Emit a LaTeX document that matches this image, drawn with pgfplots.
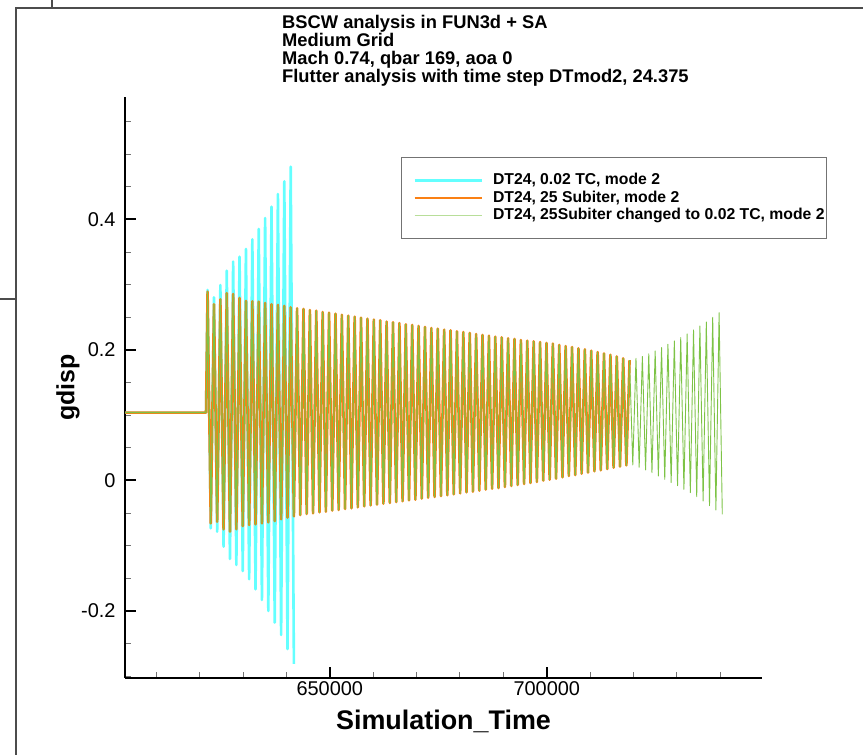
\documentclass[border=0pt]{standalone}
\usepackage{fontspec}
\setmainfont{Liberation Sans}
\usepackage{pgfplots}
\pgfplotsset{compat=1.18}
\usepackage{pgfplotstable}

\definecolor{dtcyan}{RGB}{100,255,255}
\definecolor{dtorange}{RGB}{250,128,20}
\definecolor{dtgreen}{RGB}{125,195,70}

% gdisp history, DT24 with 0.02 TC (peaks and troughs of each cycle)
\pgfplotstableread{
t g
602900 0.104
621470 0.104
621830 0.2920
622567 -0.0733
623304 0.2807
624041 -0.0784
624777 0.2996
625514 -0.1014
626251 0.3216
626988 -0.1203
627724 0.3354
628461 -0.1295
629198 0.3430
629935 -0.1387
630671 0.3548
631408 -0.1514
632145 0.3696
632882 -0.1668
633618 0.3854
634355 -0.1831
635092 0.4023
635829 -0.2000
636565 0.4196
637302 -0.2179
638039 0.4390
638776 -0.2368
639512 0.4585
640249 -0.2582
640986 0.4810
641723 -0.2812
}\tcrun

% gdisp history, DT24 with 25 subiterations
\pgfplotstableread{
t g
602900 0.104
621470 0.104
621830 0.2893
622567 -0.0656
623304 0.2700
624041 -0.0631
624777 0.2777
625514 -0.0748
626251 0.2869
626988 -0.0784
627724 0.2858
628461 -0.0748
629198 0.2797
629935 -0.0697
630671 0.2751
631408 -0.0682
632145 0.2746
632882 -0.0672
633618 0.2740
634355 -0.0656
635092 0.2720
635829 -0.0641
636565 0.2700
637302 -0.0621
638039 0.2690
638776 -0.0595
639512 0.2674
640249 -0.0570
640986 0.2654
641723 -0.0549
642459 0.2639
643196 -0.0529
643933 0.2628
644670 -0.0513
645406 0.2613
646143 -0.0503
646880 0.2603
647617 -0.0488
648353 0.2582
649090 -0.0478
649827 0.2572
650564 -0.0462
651300 0.2557
652037 -0.0452
652774 0.2540
653511 -0.0437
654247 0.2526
654984 -0.0427
655721 0.2510
656458 -0.0411
657194 0.2495
657931 -0.0396
658668 0.2480
659405 -0.0381
660141 0.2465
660878 -0.0370
661615 0.2455
662352 -0.0355
663088 0.2434
663825 -0.0345
664562 0.2424
665299 -0.0330
666035 0.2412
666772 -0.0319
667509 0.2393
668246 -0.0304
668982 0.2383
669719 -0.0294
670456 0.2368
671193 -0.0278
671929 0.2352
672666 -0.0263
673403 0.2337
674140 -0.0253
674876 0.2327
675613 -0.0238
676350 0.2311
677087 -0.0227
677823 0.2301
678560 -0.0212
679297 0.2286
680034 -0.0197
680770 0.2275
681507 -0.0181
682244 0.2260
682981 -0.0171
683717 0.2245
684454 -0.0156
685191 0.2230
685928 -0.0140
686664 0.2219
687401 -0.0125
688138 0.2204
688875 -0.0115
689611 0.2194
690348 -0.0100
691085 0.2178
691822 -0.0084
692558 0.2168
693295 -0.0069
694032 0.2153
694769 -0.0054
695505 0.2143
696242 -0.0038
696979 0.2132
697716 -0.0023
698452 0.2122
699189 -0.0003
699926 0.2107
700663 0.0013
701399 0.2097
702136 0.0028
702873 0.2076
703610 0.0049
704346 0.2060
705083 0.0069
705820 0.2045
706557 0.0084
707293 0.2025
708030 0.0105
708767 0.2009
709504 0.0120
710240 0.1989
710977 0.0141
711714 0.1968
712451 0.0156
713187 0.1947
713924 0.0176
714661 0.1927
715398 0.0197
716134 0.1900
716871 0.0212
717608 0.1872
718345 0.0232
719081 0.1845
}\subiterrun

% continuation after switching the 25-subiteration run to 0.02 TC
\pgfplotstableread{
t g
719081 0.1845
719818 0.0238
720555 0.1873
721292 0.0202
722028 0.1899
722765 0.0161
723502 0.1940
724239 0.0120
724975 0.1985
725712 0.0069
726449 0.2036
727186 0.0018
727922 0.2088
728659 -0.0033
729396 0.2139
730133 -0.0079
730869 0.2190
731606 -0.0136
732343 0.2246
733080 -0.0187
733816 0.2307
734553 -0.0248
735290 0.2368
736027 -0.0314
736763 0.2429
737500 -0.0386
738237 0.2500
738974 -0.0452
739710 0.2572
740447 -0.0519
}\restartrun

\begin{document}
\begin{tikzpicture}[x=1bp,y=1bp]
\useasboundingbox (0,0) rectangle (863,755);

% window frame
\draw[black!70, line width=1.5bp] (16,0) -- (16,747) -- (863,747);
\draw[black!70, line width=1.5bp] (52,747) -- (52,755);
\draw[black!70, line width=1.5bp] (0,456) -- (16,456);

% title block
\begin{scope}[every node/.style={anchor=base west, inner sep=0pt, font=\bfseries\fontsize{18.4}{18}\selectfont}]
\node at (282,726) {BSCW analysis in FUN3d + SA};
\node at (282,708) {Medium Grid};
\node at (282,690) {Mach 0.74, qbar 169, aoa 0};
\node at (282,672) {Flutter analysis with time step DTmod2, 24.375};
\end{scope}

\begin{axis}[
  at={(125bp,77bp)}, anchor=south west,
  scale only axis, width=637bp, height=581bp,
  xmin=602800, xmax=749600, ymin=-0.3027, ymax=0.5877,
  axis x line=bottom, axis y line=left,
  x axis line style={-}, y axis line style={-},
  axis line style={line width=2.2bp, black},
  scaled x ticks=false, scaled y ticks=false,
  xtick={650000,700000}, xticklabels={650000,700000},
  ytick={-0.2,0,0.2,0.4}, yticklabels={-0.2,0,0.2,0.4},
  minor xtick={610000,620000,630000,640000,660000,670000,680000,690000,710000,720000,730000,740000},
  minor ytick={-0.30,-0.25,-0.15,-0.10,-0.05,0.05,0.10,0.15,0.25,0.30,0.35,0.45,0.50,0.55},
  tick align=inside,
  major tick length=11bp, minor tick length=6bp,
  every major tick/.append style={black, line width=2bp},
  every minor tick/.append style={black!55, line width=1bp},
  tick label style={font=\fontsize{20}{24}\selectfont},
  yticklabel style={xshift=-6bp},
  xlabel={Simulation\_Time}, ylabel={gdisp},
  xlabel style={font=\bfseries\fontsize{27}{30}\selectfont, at={(axis description cs:0.5,-0.074)}, anchor=center},
  ylabel style={font=\bfseries\fontsize{25}{28}\selectfont, at={(axis description cs:-0.0895,0.5)}, anchor=center},
  legend style={at={(0.4333,0.8967)}, anchor=north west, draw=black!55, line width=0.8bp,
    font=\bfseries\fontsize{15.8}{17.5}\selectfont, inner xsep=2bp, inner ysep=15.5bp,
    row sep=2.5bp, column sep=10bp, cells={anchor=west},
    nodes={inner sep=0pt, text height=12bp, text depth=3bp}},
  legend image code/.code={\path (0bp,0bp); \draw[#1] (10bp,0bp) -- (77bp,0bp);},
]
\addplot[dtcyan, line width=2.6bp, line join=round] table[x=t,y=g]{\tcrun};
\addlegendentry{DT24, 0.02 TC, mode 2}
\addplot[dtorange, line width=2.6bp, line join=round] table[x=t,y=g]{\subiterrun};
\addlegendentry{DT24, 25 Subiter, mode 2}
\addplot[dtgreen, line width=1.1bp, line join=round, forget plot] table[x=t,y=g]{\subiterrun};
\addplot[dtgreen, line width=0.9bp, line join=round,
  legend image post style={dtgreen!55, line width=1.3bp}] table[x=t,y=g]{\restartrun};
\addlegendentry{DT24, 25Subiter changed to 0.02 TC, mode 2}
\end{axis}
\end{tikzpicture}
\end{document}
